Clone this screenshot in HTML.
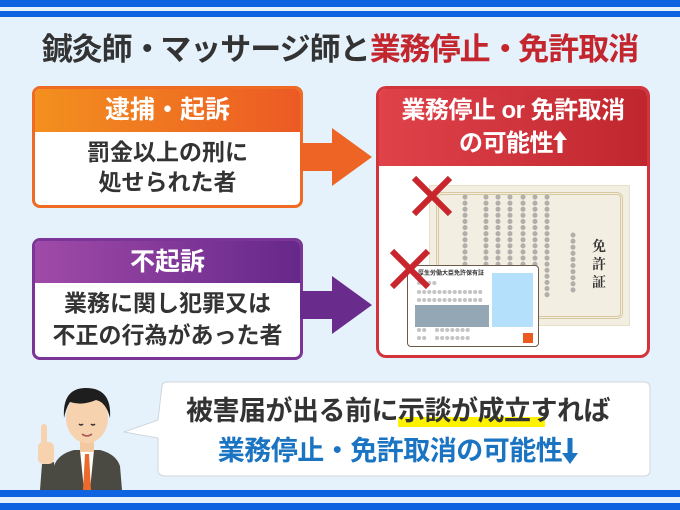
<!DOCTYPE html>
<html><head><meta charset="utf-8"><style>
*{margin:0;padding:0;box-sizing:border-box}
body{width:680px;height:510px;background:#e5f2fc;position:relative;overflow:hidden;font-family:"Liberation Sans","Noto Sans CJK JP",sans-serif;font-weight:700}
.a{position:absolute}
.c{text-align:center;white-space:nowrap}
</style></head><body>
<div class="a" style="left:0;top:0;width:680px;height:7px;background:#0d63e0"></div>
<div class="a" style="left:0;top:11px;width:680px;height:6px;background:#0d63e0"></div>
<div class="a" style="left:0;top:490px;width:680px;height:7px;background:#0d63e0"></div>
<div class="a" style="left:0;top:503px;width:680px;height:7px;background:#0d63e0"></div>

<div class="a c" style="left:0;top:28px;width:680px;font-size:31px;line-height:44px;color:#333;letter-spacing:-1px">鍼灸師<span style="letter-spacing:-10px">・</span> マッサージ師と<span style="color:#c4262e">業務停止<span style="letter-spacing:-10px">・</span> 免許取消</span></div>

<!-- orange box -->
<div class="a" style="left:32px;top:86px;width:271px;height:122px;border:3px solid #ef6a22;border-radius:8px;background:#fff;overflow:hidden">
<div style="height:43px;background:linear-gradient(90deg,#f3901e,#ec5a24);color:#fff;font-size:25px;line-height:42px;text-align:center">逮捕・起訴</div>
<div class="c" style="font-size:23px;line-height:30px;color:#333;padding-top:5px">罰金以上の刑に<br>処せられた者</div>
</div>
<svg class="a" style="left:300px;top:128px" width="76" height="58"><polygon points="0,15 32,15 32,0 72,29 32,58 32,43 0,43" fill="#ee6424"/></svg>

<!-- purple box -->
<div class="a" style="left:32px;top:238px;width:271px;height:122px;border:3px solid #7a3597;border-radius:8px;background:#fff;overflow:hidden">
<div style="height:42px;background:linear-gradient(90deg,#a04aa8,#66288a);color:#fff;font-size:25px;line-height:42px;text-align:center">不起訴</div>
<div class="c" style="font-size:23px;line-height:32px;color:#333;padding-top:4px">業務に関し犯罪又は<br>不正の行為があった者</div>
</div>
<svg class="a" style="left:300px;top:276px" width="76" height="58"><polygon points="0,15 32,15 32,0 72,29 32,58 32,43 0,43" fill="#6a2c8c"/></svg>

<!-- red box -->
<div class="a" style="left:376px;top:86px;width:274px;height:272px;border:3px solid #d3343c;border-radius:10px;background:#fff;overflow:hidden">
<div style="height:77px;background:linear-gradient(90deg,#e0424a,#c0262e);color:#fff;font-size:24px;line-height:33px;text-align:center;padding-top:5px;white-space:nowrap;letter-spacing:-0.5px">業務停止 or 免許取消<br>の可能性<svg width="14" height="22" style="vertical-align:-2px"><polygon points="7,0 14,9 9.5,9 9.5,22 4.5,22 4.5,9 0,9" fill="#fff"/></svg></div>
</div>
<!-- certificate -->
<div class="a" style="left:429px;top:185px;width:201px;height:141px;background:#f3eee2;border:1px solid #e8dfc8"></div>
<div class="a" style="left:436px;top:192px;width:187px;height:127px;border:3px double #d8c9a0;border-radius:6px"></div>
<svg class="a" style="left:429px;top:185px" width="201" height="141">
<g stroke="#b2aeaa" stroke-width="5" stroke-linecap="round" stroke-dasharray="0.1 6">
<line x1="36" y1="12" x2="36" y2="102"/><line x1="57" y1="12" x2="57" y2="110"/><line x1="69" y1="12" x2="69" y2="110"/><line x1="81" y1="12" x2="81" y2="110"/><line x1="94" y1="12" x2="94" y2="110"/><line x1="106" y1="12" x2="106" y2="110"/><line x1="118" y1="12" x2="118" y2="110"/><line x1="144" y1="50" x2="144" y2="110"/>
</g>
<text x="170" y="66" font-size="14" fill="#333" font-family="Noto Serif CJK SC,serif" text-anchor="middle">免</text>
<text x="170" y="84" font-size="14" fill="#333" font-family="Noto Serif CJK SC,serif" text-anchor="middle">許</text>
<text x="170" y="102" font-size="14" fill="#333" font-family="Noto Serif CJK SC,serif" text-anchor="middle">証</text>
</svg>
<!-- card -->
<div class="a" style="left:407px;top:265px;width:132px;height:82px;background:#fff;border:1.5px solid #6b5a4a;border-radius:4px"></div>
<div class="a" style="left:418px;top:268px;font-size:6px;color:#333;white-space:nowrap">厚生労働大臣免許保有証</div>
<div class="a" style="left:492px;top:273px;width:41px;height:54px;background:#b5e0fb"></div>
<div class="a" style="left:415px;top:305px;width:74px;height:22px;background:#93a7b5"></div>
<div class="a" style="left:523px;top:333px;width:10px;height:10px;background:#ec5a20"></div>
<svg class="a" style="left:407px;top:265px" width="132" height="82">
<g stroke="#c4c4c4" stroke-width="4" stroke-linecap="round" stroke-dasharray="0.1 5">
<line x1="12" y1="18" x2="28" y2="18"/><line x1="12" y1="27" x2="75" y2="27"/><line x1="12" y1="35" x2="75" y2="35"/><line x1="12" y1="73" x2="22" y2="73"/><line x1="30" y1="73" x2="62" y2="73"/><line x1="12" y1="65" x2="22" y2="65"/><line x1="30" y1="65" x2="62" y2="65"/>
</g></svg>
<!-- X marks -->
<svg class="a" style="left:412px;top:176px" width="40" height="40"><g stroke="#c9252d" stroke-width="6"><line x1="2" y1="2" x2="38" y2="38"/><line x1="38" y1="2" x2="2" y2="38"/></g></svg>
<svg class="a" style="left:390px;top:249px" width="40" height="40"><g stroke="#c9252d" stroke-width="6"><line x1="2" y1="2" x2="38" y2="38"/><line x1="38" y1="2" x2="2" y2="38"/></g></svg>

<!-- bubble -->
<svg class="a" style="left:118px;top:378px" width="540" height="104">
<path d="M44,8 Q44,4 50,4 L526,4 Q532,4 532,10 L532,92 Q532,98 526,98 L48,98 Q40,98 40,92 L40,60 L6,54 L40,42 Z" fill="#fff" stroke="#d0d6dc" stroke-width="1"/>
</svg>
<div class="a" style="left:398px;top:417px;width:147px;height:10px;background:#fff200"></div>
<div class="a c" style="left:148px;top:394px;width:500px;font-size:27px;line-height:34px;color:#333;letter-spacing:-0.5px">被害届が出る前に示談が成立すれば</div>
<div class="a c" style="left:148px;top:434px;width:500px;font-size:27px;line-height:34px;color:#1b74c2;letter-spacing:-0.5px">業務停止・免許取消の可能性<svg width="16" height="26" style="vertical-align:-4px"><polygon points="8,26 16,15 10.5,15 10.5,0 5.5,0 5.5,15 0,15" fill="#1b74c2"/></svg></div>

<!-- man -->
<svg class="a" style="left:26px;top:378px" width="100" height="112">
<path d="M26,112 L28,88 Q32,76 48,72 L74,72 Q90,76 94,88 L96,112 Z" fill="#4b4a42"/>
<path d="M54,72 L68,72 L64,112 L58,112 Z" fill="#fff"/>
<path d="M59,76 L63,76 L65,112 L57,112 Z" fill="#ec6a2c"/>
<rect x="54" y="60" width="14" height="14" fill="#f3c9a2"/>
<ellipse cx="61" cy="40" rx="21" ry="25" fill="#f6d2ae"/>
<path d="M38,40 Q36,10 60,10 Q86,10 84,40 Q80,24 70,22 Q56,28 44,24 Q40,30 38,40 Z" fill="#1e1e1e"/>
<path d="M53,46 Q55,48 57,46 M65,46 Q67,48 69,46" stroke="#333" stroke-width="1.5" fill="none"/>
<path d="M56,56 Q61,60 66,56" stroke="#a55" stroke-width="1.5" fill="none"/>
<path d="M14,112 L16,86 L28,84 L30,112 Z" fill="#4b4a42"/>
<rect x="12" y="64" width="16" height="22" rx="5" fill="#f6d2ae"/>
<rect x="15" y="46" width="6" height="22" rx="3" fill="#f6d2ae"/>
</svg>
</body></html>
